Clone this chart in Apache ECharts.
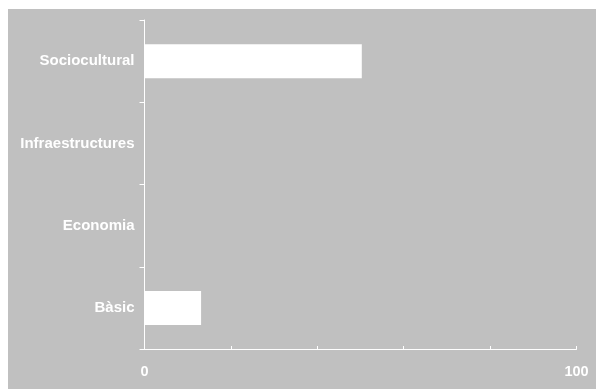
<!DOCTYPE html>
<html><head><meta charset="utf-8">
<script src="https://cdn.jsdelivr.net/npm/echarts@6/dist/echarts.min.js"></script>
<style>html,body{margin:0;padding:0;background:#fff;}#c{width:596px;height:389px;}</style>
</head><body><div id="c"></div>
<script>
var categories = ['Bàsic', 'Economia', 'Infraestructures', 'Sociocultural'];
var values = [13.1, 0, 0, 50.3];
var xTickLabels = ['0', '100'];

var chart = echarts.init(document.getElementById('c'), null, {renderer: 'canvas'});
var font = 'Liberation Sans, Arial, sans-serif';
chart.setOption({
  animation: false,
  graphic: [{type: 'rect', z: -10, shape: {x: 8, y: 9, width: 600, height: 400}, style: {fill: '#c0c0c0'}}],
  grid: {left: 144.5, right: 19.5, top: 20, bottom: 40},
  xAxis: {
    type: 'value', min: 0, max: 100, interval: 20,
    axisLine: {show: true, lineStyle: {color: '#fff', width: 1}},
    axisTick: {show: true, inside: true, length: 3, lineStyle: {color: '#fff'}},
    splitLine: {show: false},
    axisLabel: {
      color: '#fff', fontFamily: font, fontWeight: 'bold', fontSize: 14.5, margin: 15,
      formatter: function (v) { return xTickLabels.indexOf(String(v)) >= 0 ? String(v) : ''; }
    }
  },
  yAxis: {
    type: 'category', data: categories,
    axisLine: {show: true, lineStyle: {color: '#fff', width: 1}},
    axisTick: {show: true, length: 5, lineStyle: {color: '#fff'}},
    axisLabel: {color: '#fff', fontFamily: font, fontWeight: 'bold', fontSize: 15, margin: 10}
  },
  series: [{
    type: 'bar', data: values, barWidth: 34,
    itemStyle: {color: '#fff'}
  }]
});
</script></body></html>
